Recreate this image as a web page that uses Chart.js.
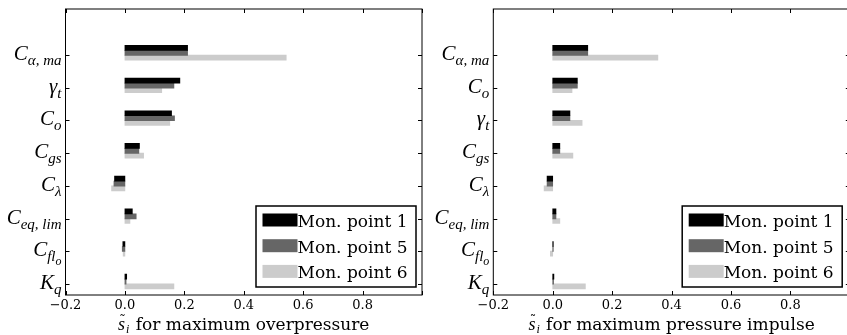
<!DOCTYPE html>
<html>
<head>
<meta charset="utf-8">
<script src="https://cdn.jsdelivr.net/npm/chart.js@4.4.0/dist/chart.umd.min.js"></script>
<style>
html, body { margin: 0; padding: 0; background: #fff; overflow: hidden; }
#wrap { position: relative; width: 847px; height: 335px; overflow: hidden; }
.panel { position: absolute; top: 0; height: 335px; }
#left { left: 0; width: 425px; }
#right { left: 425px; width: 430px; }
</style>
</head>
<body>
<div id="wrap">
  <div class="panel" id="left"><canvas id="cOver" width="425" height="335"></canvas></div>
  <div class="panel" id="right"><canvas id="cImp" width="430" height="335"></canvas></div>
</div>
<script>
// categories, top to bottom ("_" starts a subscript)
const catsOver = ['C_α, ma', 'γ_t', 'C_o', 'C_gs', 'C_λ', 'C_eq, lim', 'C_fl_o', 'K_q'];
const catsImp  = ['C_α, ma', 'C_o', 'γ_t', 'C_gs', 'C_λ', 'C_eq, lim', 'C_fl_o', 'K_q'];

const seriesNames = ['Mon. point 1', 'Mon. point 5', 'Mon. point 6'];

// sensitivity indices, maximum overpressure
const over1 = [0.211, 0.185, 0.157, 0.049, -0.035, 0.025, -0.007, 0.006];
const over5 = [0.211, 0.165, 0.167, 0.047, -0.037, 0.038, -0.009, 0.004];
const over6 = [0.543, 0.124, 0.151, 0.063, -0.045, 0.017, -0.006, 0.165];

// sensitivity indices, maximum pressure impulse
const imp1 = [0.118, 0.083, 0.058, 0.024, -0.019, 0.011, 0.002, 0.004];
const imp5 = [0.118, 0.083, 0.058, 0.024, -0.019, 0.011, 0.002, 0.003];
const imp6 = [0.354, 0.065, 0.099, 0.068, -0.029, 0.024, -0.008, 0.110];

const xTicks = [-0.2, 0.0, 0.2, 0.4, 0.6, 0.8];

const colors = ['#000000', '#666666', '#cccccc'];
const offsets = [0.22, 0.067, -0.076]; // bar offset inside a group (y units, up is positive)

const SERIF = '"DejaVu Serif", serif';
const MATH = '"Liberation Serif", serif';

function drawMath(ctx, str, rightX, baseY, size) {
    const parts = str.split('_');
    const fonts = ['italic ' + size + 'px ' + MATH,
                   'italic ' + Math.round(size * 0.72) + 'px ' + MATH,
                   'italic ' + Math.round(size * 0.55) + 'px ' + MATH];
    const shifts = [0, size * 0.24, size * 0.4];
    let widths = parts.map((p, i) => { ctx.font = fonts[i]; return ctx.measureText(p).width; });
    let x = rightX - widths.reduce((a, b) => a + b, 0);
    ctx.textAlign = 'left';
    ctx.textBaseline = 'alphabetic';
    parts.forEach((p, i) => {
        ctx.font = fonts[i];
        ctx.fillText(p, x, baseY + shifts[i]);
        x += widths[i];
    });
}

const decor = {
    id: 'decor',
    afterDraw(chart, args, opts) {
        const ctx = chart.ctx, a = chart.chartArea;
        const xs = chart.scales.x, ys = chart.scales.y;
        ctx.save();
        ctx.fillStyle = '#000';
        ctx.strokeStyle = '#000';
        ctx.lineWidth = 1;

        // frame
        ctx.strokeRect(a.left, a.top, a.right - a.left, a.bottom - a.top);

        // inward ticks
        ctx.beginPath();
        xTicks.concat([1.0]).forEach(v => {
            const px = Math.round(xs.getPixelForValue(v)) + 0.5;
            ctx.moveTo(px, a.bottom); ctx.lineTo(px, a.bottom - 4);
            ctx.moveTo(px, a.top); ctx.lineTo(px, a.top + 4);
        });
        opts.cats.forEach((c, i) => {
            const py = Math.round(ys.getPixelForValue(opts.cats.length - 1 - i)) + 0.5;
            ctx.moveTo(a.left, py); ctx.lineTo(a.left + 4, py);
            ctx.moveTo(a.right, py); ctx.lineTo(a.right - 4, py);
        });
        ctx.stroke();

        // category labels
        opts.cats.forEach((c, i) => {
            const py = ys.getPixelForValue(opts.cats.length - 1 - i);
            drawMath(ctx, c, a.left - 4, py + 5, 21);
        });

        // axis title
        const rest = ' for maximum ' + opts.title;
        ctx.font = 'italic 18px ' + MATH;
        const ws = ctx.measureText('s').width;
        ctx.font = 'italic 12px ' + MATH;
        const wi = ctx.measureText('i').width + 2;
        ctx.font = '17px ' + SERIF;
        const wr = ctx.measureText(rest).width;
        let x = (a.left + a.right) / 2 - (ws + wi + wr) / 2;
        const by = 330;
        ctx.textAlign = 'left';
        ctx.textBaseline = 'alphabetic';
        ctx.font = 'italic 18px ' + MATH;
        ctx.fillText('s', x, by);
        ctx.font = '13px ' + SERIF;
        ctx.textAlign = 'center';
        ctx.fillText('\u02DC', x + ws / 2 + 1, by - 6);
        ctx.textAlign = 'left';
        ctx.font = 'italic 12px ' + MATH;
        ctx.fillText('i', x + ws + 1, by + 3);
        ctx.font = '17px ' + SERIF;
        ctx.fillText(rest, x + ws + wi, by);

        // legend
        const bw = 160, bh = 81;
        const bx = a.right - opts.legendRight - bw, byTop = a.bottom - 8 - bh;
        ctx.fillStyle = '#fff';
        ctx.fillRect(bx, byTop, bw, bh);
        ctx.lineWidth = 1.5;
        ctx.strokeRect(bx, byTop, bw, bh);
        ctx.font = '17px ' + SERIF;
        chart.data.datasets.forEach((ds, i) => {
            const sy = byTop + 7.5 + i * 25.7;
            ctx.fillStyle = ds.backgroundColor;
            ctx.fillRect(bx + 6.5, sy, 35, 13);
            ctx.fillStyle = '#000';
            ctx.fillText(ds.label, bx + 41.5, sy + 13.5);
        });
        ctx.restore();
    }
};

function makeChart(id, cats, values, title, yWidth, rightPad, legendRight) {
    const n = cats.length;
    const datasets = values.map((vals, s) => ({
        label: seriesNames[s],
        data: vals.map((v, i) => ({ x: v, y: n - 1 - i + offsets[s] })),
        backgroundColor: colors[s],
        borderWidth: 0,
        barThickness: 5,
        grouped: false
    }));
    return new Chart(document.getElementById(id), {
        type: 'bar',
        data: { datasets: datasets },
        options: {
            indexAxis: 'y',
            responsive: false,
            animation: false,
            layout: { padding: { left: 0, right: rightPad, top: 9, bottom: 0 } },
            plugins: {
                legend: { display: false },
                tooltip: { enabled: false },
                decor: { cats: cats, title: title, legendRight: legendRight }
            },
            scales: {
                x: {
                    type: 'linear',
                    min: -0.2,
                    max: 1.0,
                    offset: false,
                    afterBuildTicks: s => { s.ticks = xTicks.map(v => ({ value: v })); },
                    afterFit: s => { s.height = 40; },
                    grid: { display: false, drawTicks: false },
                    border: { display: false },
                    ticks: {
                        padding: 3,
                        color: '#000',
                        font: { family: 'DejaVu Serif', size: 13 },
                        callback: v => (v < -1e-9 ? '\u2212' : '') + Math.abs(v).toFixed(1)
                    }
                },
                y: {
                    type: 'linear',
                    min: -0.34,
                    max: 8.41,
                    offset: false,
                    afterFit: s => { s.width = yWidth; },
                    grid: { display: false, drawTicks: false },
                    border: { display: false },
                    ticks: { display: false }
                }
            }
        },
        plugins: [decor]
    });
}

makeChart('cOver', catsOver, [over1, over5, over6], 'overpressure', 65.5, 3, 6);
makeChart('cImp', catsImp, [imp1, imp5, imp6], 'pressure impulse', 68.3, 5.2, 7.6);
</script>
</body>
</html>
